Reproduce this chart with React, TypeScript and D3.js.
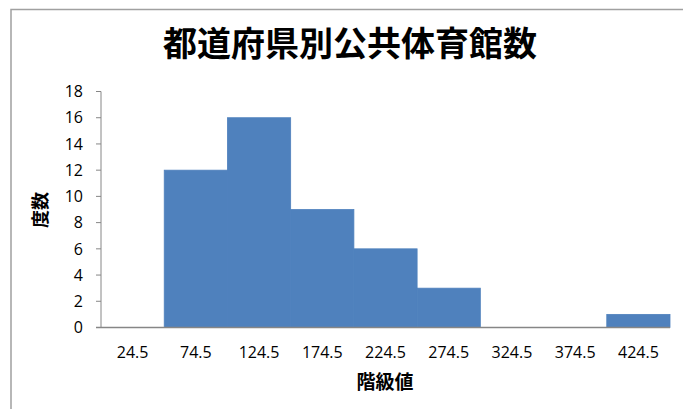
import React from "react";
import * as d3 from "d3";

const categories = ["24.5", "74.5", "124.5", "174.5", "224.5", "274.5", "324.5", "374.5", "424.5"];
const frequencies = [0, 12, 16, 9, 6, 3, 0, 0, 1];
const yTicks = [0, 2, 4, 6, 8, 10, 12, 14, 16, 18];
const title = "都道府県別公共体育館数";
const xTitle = "階級値";
const yTitle = "度数";

const W = 683;
const H = 409;
const left = 101;
const right = 670;
const top = 91.5;
const bottom = 327.5;

export default function App() {
  const x = d3.scaleBand<string>().domain(categories).range([left, right]).padding(0);
  const y = d3.scaleLinear().domain([0, 18]).range([bottom, top]);
  const cjk = "'Noto Sans CJK JP', 'Noto Sans', sans-serif";
  const num = "'Open Sans', 'Liberation Sans', sans-serif";
  return (
    <svg width={W} height={H} style={{ position: "absolute", left: 0, top: 0, background: "#fff" }}>
      <rect x={0} y={0} width={W} height={H} fill="#fff" />
      {/* outer chart border */}
      <path d={`M11,${H + 5} L11,9.5 L${W + 5},9.5`} fill="none" stroke="#a0a0a0" strokeWidth={1.5} />
      <text x={350} y={56} textAnchor="middle" fontFamily={cjk} fontWeight="bold" fontSize={34} fill="#000">
        {title}
      </text>
      {/* bars */}
      {categories.map((c, i) =>
        frequencies[i] > 0 ? (
          <rect
            key={c}
            x={x(c)!}
            y={y(frequencies[i])}
            width={x.bandwidth()}
            height={bottom - y(frequencies[i])}
            fill="#4f81bd"
            stroke="#4f81bd"
            strokeWidth={0.8}
          />
        ) : null
      )}
      {/* y axis */}
      <line x1={left} x2={left} y1={top} y2={bottom} stroke="#868686" strokeWidth={1} />
      {yTicks.map((t) => (
        <g key={t}>
          <line x1={left - 5} x2={left} y1={y(t)} y2={y(t)} stroke="#868686" strokeWidth={1} />
          <text x={83} y={y(t)} dy="0.36em" textAnchor="end" fontFamily={num} fontSize={16} fill="#000">
            {t}
          </text>
        </g>
      ))}
      {/* x axis */}
      <line x1={left - 5} x2={right} y1={bottom} y2={bottom} stroke="#868686" strokeWidth={1.5} />
      {categories.map((c) => (
        <text key={c} x={x(c)! + x.bandwidth() / 2} y={358.3} textAnchor="middle" fontFamily={num} fontSize={16} fill="#000">
          {c}
        </text>
      ))}
      <text x={385} y={389} textAnchor="middle" fontFamily={cjk} fontWeight="bold" fontSize={19} fill="#000">
        {xTitle}
      </text>
      <text
        transform={`translate(47,210) rotate(-90)`}
        textAnchor="middle"
        fontFamily={cjk}
        fontWeight="bold"
        fontSize={18}
        fill="#000"
      >
        {yTitle}
      </text>
    </svg>
  );
}
